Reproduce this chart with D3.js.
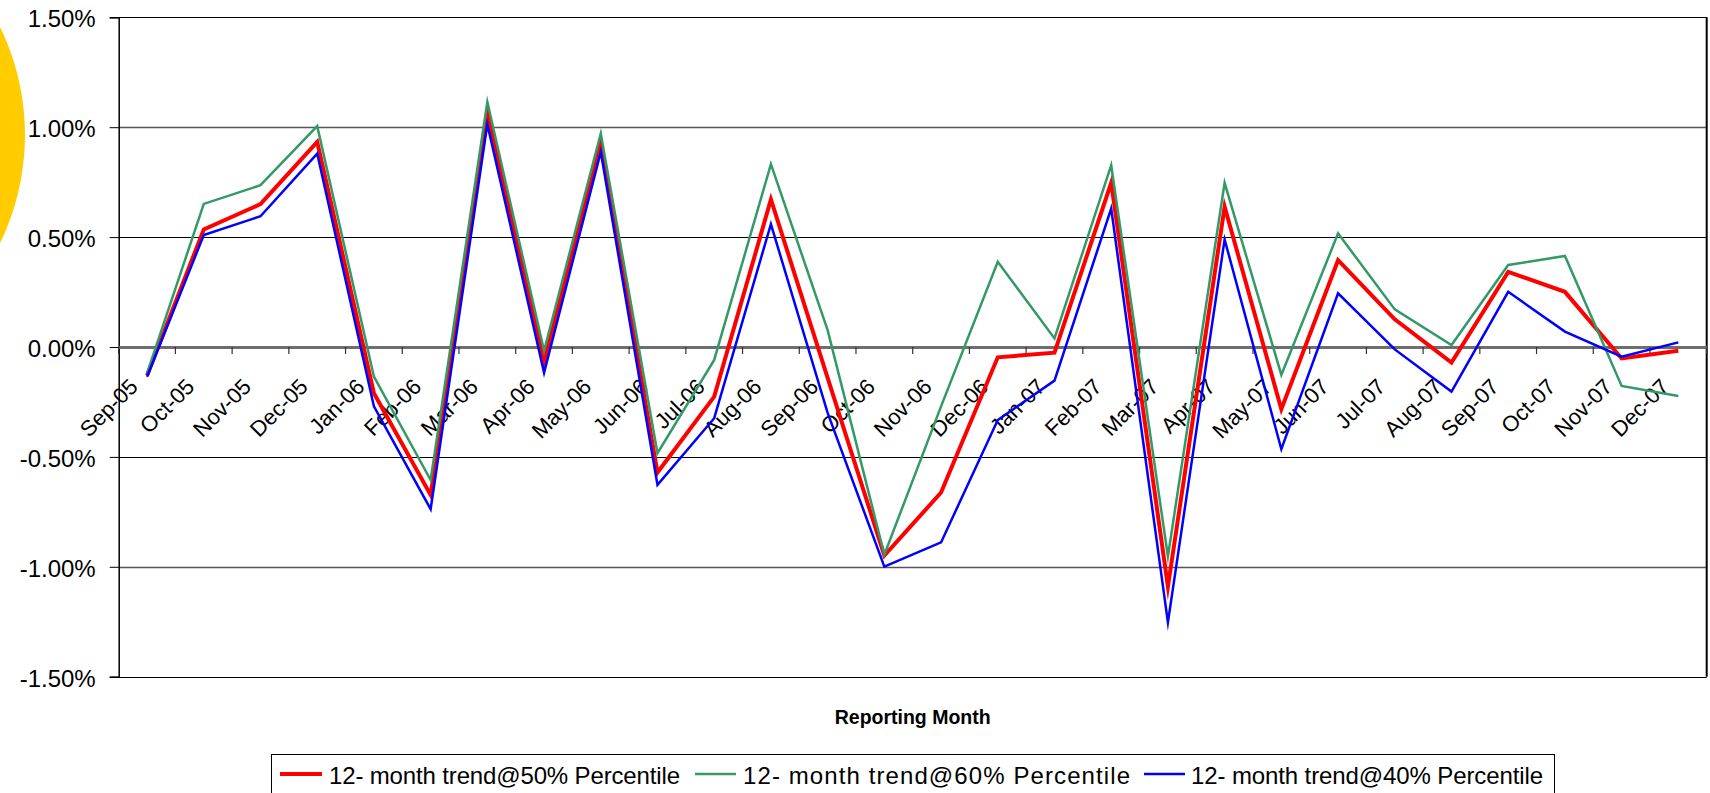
<!DOCTYPE html>
<html>
<head>
<meta charset="utf-8">
<script src="https://cdn.jsdelivr.net/npm/d3@7/dist/d3.min.js"></script>
<style>
  html, body { margin: 0; padding: 0; background: #fff; }
  svg { display: block; font-family: "Liberation Sans", Arial, sans-serif; }
</style>
</head>
<body>
<svg id="chart" width="1710" height="793"></svg>
<script>
const months = ["Sep-05","Oct-05","Nov-05","Dec-05","Jan-06","Feb-06","Mar-06","Apr-06","May-06","Jun-06","Jul-06","Aug-06","Sep-06","Oct-06","Nov-06","Dec-06","Jan-07","Feb-07","Mar-07","Apr-07","May-07","Jun-07","Jul-07","Aug-07","Sep-07","Oct-07","Nov-07","Dec-07"];

const trend50 = [-0.13, 0.535, 0.65, 0.933, -0.21, -0.673, 1.062, -0.067, 0.923, -0.571, -0.226, 0.671, -0.14, -0.949, -0.662, -0.047, -0.026, 0.747, -1.09, 0.638, -0.283, 0.395, 0.126, -0.071, 0.342, 0.251, -0.052, -0.017];
const trend60 = [-0.12, 0.651, 0.736, 1.005, -0.135, -0.605, 1.115, -0.017, 0.971, -0.483, -0.059, 0.832, 0.077, -0.945, -0.27, 0.388, 0.039, 0.827, -0.953, 0.747, -0.127, 0.517, 0.171, 0.009, 0.373, 0.414, -0.177, -0.223];
const trend40 = [-0.135, 0.509, 0.595, 0.88, -0.27, -0.738, 1.014, -0.117, 0.888, -0.627, -0.324, 0.559, -0.30, -0.999, -0.889, -0.332, -0.153, 0.630, -1.253, 0.489, -0.465, 0.244, -0.011, -0.203, 0.251, 0.07, -0.044, 0.021];

const yTicks = [-1.5, -1.0, -0.5, 0, 0.5, 1.0, 1.5];
const seriesNames = ["12- month trend@50% Percentile", "12- month trend@60% Percentile", "12- month trend@40% Percentile"];
const seriesColors = ["#ff0000", "#339966", "#0000ff"];
const seriesWidths = [4, 2.5, 2.5];
const xTitle = "Reporting Month";

const svg = d3.select("#chart");

// decorative yellow disc at the left edge
svg.append("circle").attr("cx", -221).attr("cy", 135).attr("r", 246).attr("fill", "#ffcc00");

const pLeft = 118.7, pRight = 1706.7, pTop = 17.3, pBottom = 676.7;

const x = d3.scaleBand().domain(months).range([pLeft, pRight]).paddingInner(0).paddingOuter(0);
const xp = m => x(m) + x.bandwidth() / 2;
const y = d3.scaleLinear().domain([-1.5, 1.5]).range([pBottom, pTop]);

// plot background
svg.append("rect").attr("x", pLeft).attr("y", pTop).attr("width", pRight - pLeft).attr("height", pBottom - pTop).attr("fill", "#fff");

// gridlines
svg.append("g").selectAll("line").data(yTicks.filter(t => t !== 0)).join("line")
  .attr("x1", pLeft).attr("x2", pRight)
  .attr("y1", d => Math.round(y(d)) + 0.5).attr("y2", d => Math.round(y(d)) + 0.5)
  .attr("stroke", d => Math.abs(d) === 1 ? "#555" : "#000")
  .attr("stroke-width", d => Math.abs(d) === 1 ? 1.4 : 1);

// y axis
const yAxis = d3.axisLeft(y).tickValues(yTicks).tickSize(9).tickFormat(d => d.toFixed(2) + "%");
const gy = svg.append("g").attr("transform", `translate(${pLeft},0)`).call(yAxis);
gy.select(".domain").attr("stroke", "#000").attr("stroke-width", 1.5);
gy.selectAll(".tick line").attr("stroke", "#000");
gy.selectAll(".tick text").attr("font-size", 24).attr("fill", "#000")
  .attr("font-family", "Liberation Sans, Arial, sans-serif")
  .attr("x", -23).attr("dy", "0.4em");

// right border
svg.append("line").attr("x1", pRight).attr("x2", pRight).attr("y1", pTop).attr("y2", pBottom)
  .attr("stroke", "#000").attr("stroke-width", 2);

// category axis at zero
const y0 = y(0);
const xAxis = d3.axisBottom(x).tickSize(0).tickFormat("");
const gx = svg.append("g").attr("transform", `translate(0,${y0})`).call(xAxis);
gx.select(".domain").attr("stroke", "#6e6e6e").attr("stroke-width", 3);
// tick marks between categories
svg.append("g").selectAll("line").data(d3.range(months.length + 1)).join("line")
  .attr("x1", i => pLeft + i * x.bandwidth()).attr("x2", i => pLeft + i * x.bandwidth())
  .attr("y1", y0).attr("y2", y0 + 7)
  .attr("stroke", "#333").attr("stroke-width", 1.2);
// rotated labels
svg.append("g").selectAll("text").data(months).join("text")
  .attr("transform", d => `translate(${xp(d) - 8},${y0 + 41}) rotate(-45)`)
  .attr("text-anchor", "end")
  .attr("font-size", 22)
  .attr("fill", "#000")
  .text(d => d);

// series lines
const allSeries = [trend50, trend60, trend40];
const line = d3.line().x((d, i) => xp(months[i])).y(d => y(d));
allSeries.forEach((vals, k) => {
  svg.append("path").datum(vals)
    .attr("d", line)
    .attr("fill", "none")
    .attr("stroke", seriesColors[k])
    .attr("stroke-width", seriesWidths[k])
    .attr("stroke-linejoin", "miter")
    .attr("stroke-miterlimit", 10);
});

// axis title
svg.append("text").attr("x", (pLeft + pRight) / 2).attr("y", 724)
  .attr("text-anchor", "middle").attr("font-weight", "bold").attr("font-size", 19.5)
  .text(xTitle);

// legend
svg.append("rect").attr("x", 271.5).attr("y", 754.5).attr("width", 1283).attr("height", 60)
  .attr("fill", "#fff").attr("stroke", "#000").attr("stroke-width", 1);
const legendItems = [
  {lx1: 280, lx2: 322, tx: 329, tw: 351},
  {lx1: 695, lx2: 736, tx: 743, tw: 387},
  {lx1: 1144, lx2: 1185, tx: 1191, tw: 352}
];
legendItems.forEach((it, k) => {
  svg.append("line").attr("x1", it.lx1).attr("x2", it.lx2).attr("y1", 774).attr("y2", 774)
    .attr("stroke", seriesColors[k]).attr("stroke-width", seriesWidths[k]);
  svg.append("text").attr("x", it.tx).attr("y", 784).attr("font-size", 24)
    .attr("textLength", it.tw).attr("lengthAdjust", "spacing")
    .text(seriesNames[k]);
});
</script>
</body>
</html>
